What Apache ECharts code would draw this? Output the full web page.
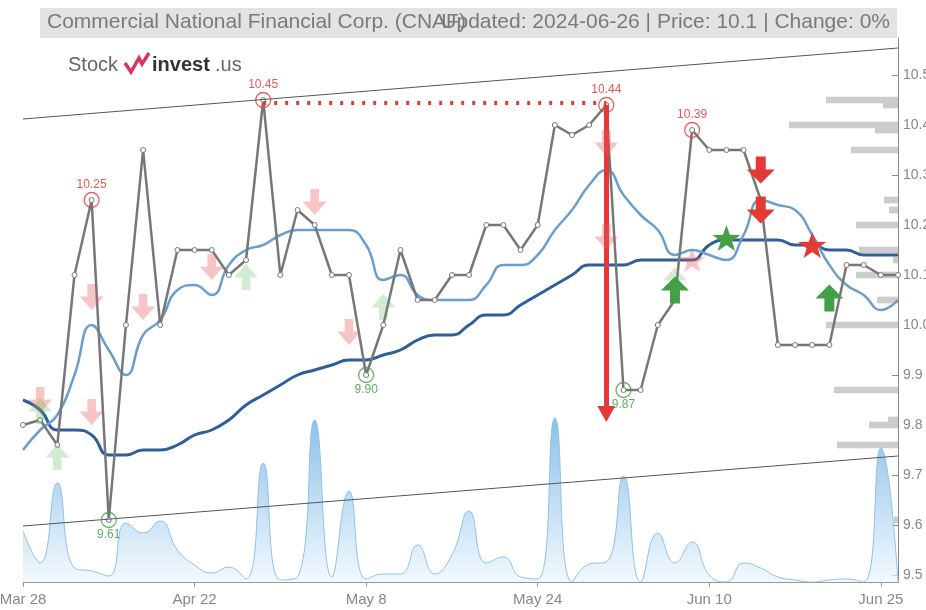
<!DOCTYPE html>
<html>
<head>
<meta charset="utf-8">
<script src="https://cdn.jsdelivr.net/npm/echarts@6/dist/echarts.min.js"></script>
<style>
  html, body { margin: 0; padding: 0; background: #fff; }
  #chart { width: 926px; height: 610px; }
</style>
</head>
<body>
<div id="chart"></div>
<script>
const dates = [
  "Mar 28", "Apr 1", "Apr 2", "Apr 4", "Apr 5", "Apr 9", "Apr 11", "Apr 12", "Apr 16", "Apr 18",
  "Apr 22", "Apr 23", "Apr 24", "Apr 25", "Apr 26", "Apr 29", "Apr 30", "May 1", "May 2", "May 6",
  "May 8", "May 9", "May 10", "May 13", "May 14", "May 15", "May 17", "May 20", "May 21", "May 23",
  "May 24", "May 28", "May 29", "May 30", "May 31", "Jun 3", "Jun 4", "Jun 5", "Jun 6", "Jun 7",
  "Jun 10", "Jun 11", "Jun 12", "Jun 13", "Jun 14", "Jun 17", "Jun 18", "Jun 20", "Jun 21", "Jun 24",
  "Jun 25", "Jun 26"
];

const close = [
  9.80, 9.81, 9.76, 10.10, 10.25, 9.61, 10.00, 10.35, 10.00, 10.15,
  10.15, 10.15, 10.10, 10.13, 10.45, 10.10, 10.23, 10.20, 10.10, 10.10,
  9.90, 10.00, 10.15, 10.05, 10.05, 10.10, 10.10, 10.20, 10.20, 10.15,
  10.20, 10.40, 10.38, 10.40, 10.44, 9.87, 9.87, 10.00, 10.05, 10.39,
  10.35, 10.35, 10.35, 10.25, 9.96, 9.96, 9.96, 9.96, 10.12, 10.12,
  10.10, 10.10
];

const maShort = [
  9.75, 9.79, 9.82, 9.90, 10.00, 9.95, 9.90, 9.98, 10.01, 10.07,
  10.08, 10.06, 10.12, 10.15, 10.16, 10.18, 10.19, 10.19, 10.19, 10.19,
  10.16, 10.09, 10.10, 10.06, 10.05, 10.05, 10.05, 10.08, 10.12, 10.12,
  10.14, 10.19, 10.23, 10.28, 10.31, 10.26, 10.22, 10.19, 10.14, 10.15,
  10.14, 10.13, 10.18, 10.25, 10.24, 10.23, 10.18, 10.12, 10.08, 10.06,
  10.03, 10.05
];

const maLong = [
  9.85, 9.83, 9.79, 9.79, 9.78, 9.74, 9.74, 9.75, 9.75, 9.76,
  9.78, 9.79, 9.81, 9.84, 9.86, 9.88, 9.90, 9.91, 9.92, 9.93,
  9.93, 9.94, 9.95, 9.97, 9.98, 9.98, 10.00, 10.02, 10.02, 10.04,
  10.06, 10.08, 10.10, 10.12, 10.12, 10.12, 10.13, 10.13, 10.13, 10.13,
  10.16, 10.17, 10.17, 10.17, 10.17, 10.16, 10.16, 10.15, 10.15, 10.14,
  10.14, 10.14
];

// volume, in hundreds of shares
const volume = [
  51, 19, 99, 14, 11, 6, 59, 49, 61, 32,
  17, 9, 15, 3, 119, 2, 5, 162, 5, 91,
  3, 8, 8, 37, 8, 27, 71, 19, 25, 5,
  3, 164, 0, 18, 20, 106, 0, 49, 19, 40,
  7, 0, 19, 14, 5, 2, 0, 2, 3, 0,
  134, 0
];

const highIdx = [4, 14, 34, 39];
const lowIdx = [5, 20, 35];

const trendUpper = [10.412, 10.554];
const trendLower = [9.598, 9.738];

// volume profile on the right
const profilePrice = [10.45, 10.44, 10.40, 10.39, 10.35, 10.25, 10.23, 10.20, 10.15, 10.13, 10.10, 10.05, 10.00, 9.87, 9.81, 9.80, 9.76, 9.61];
const profileVol = [72, 15, 109, 23, 47, 14, 9, 42, 39, 5, 42, 21, 72, 64, 10, 29, 61, 4];

// signals [index, price level]
const sellFaint = [[1, 9.85], [4, 10.056], [4, 9.826], [7, 10.036], [11, 10.116], [17, 10.246], [19, 9.986], [34, 10.364], [34, 10.176]];
const buyFaint = [[1, 9.828], [2, 9.736], [13, 10.096], [21, 10.036], [38, 10.09]];
const sellStrong = [[43, 10.31], [43, 10.23]];
const buyStrong = [[38, 10.07], [47, 10.054]];
const starFaint = [[39, 10.13]];
const starBuy = [[41, 10.174]];
const starSell = [[46, 10.16]];

const downArrow = "path://M-5,0 L5,0 L5,13 L14,13 L0,27 L-14,13 L-5,13 Z";
const upArrow = "path://M-5,27 L5,27 L5,14 L14,14 L0,0 L-14,14 L-5,14 Z";
const star = "path://M50,0 L61.76,33.82 L97.55,34.55 L69.02,56.18 L79.39,90.45 L50,70 L20.61,90.45 L30.98,56.18 L2.45,34.55 L38.24,33.82 Z";

const RED = "#e53935";
const GREEN = "#43a047";
const FONT = "Liberation Sans, Arial, sans-serif";

const chart = echarts.init(document.getElementById("chart"));

function signalSeries(data, symbol, color, size) {
  return {
    type: "scatter",
    data: data,
    symbol: symbol,
    symbolSize: size,
    itemStyle: { color: color, opacity: 1 },
    z: 5,
    silent: true,
  };
}

const hiLo = [];
highIdx.forEach((i) => {
  hiLo.push({
    coord: [dates[i], close[i]],
    symbol: "circle",
    symbolSize: 15,
    itemStyle: { color: "rgba(0,0,0,0)", borderColor: "rgba(229,57,53,0.8)", borderWidth: 1.3 },
    label: { show: true, position: "top", distance: 1, formatter: close[i].toFixed(2), color: "rgba(229,57,53,0.85)", fontSize: 12, fontFamily: FONT },
  });
});
lowIdx.forEach((i) => {
  hiLo.push({
    coord: [dates[i], close[i]],
    symbol: "circle",
    symbolSize: 15,
    itemStyle: { color: "rgba(0,0,0,0)", borderColor: "rgba(67,160,71,0.8)", borderWidth: 1.3 },
    label: { show: true, position: "bottom", distance: 1, formatter: close[i].toFixed(2), color: "rgba(67,160,71,0.85)", fontSize: 12, fontFamily: FONT },
  });
});

const option = {
  animation: false,
  textStyle: { fontFamily: FONT },
  grid: { left: 23, right: 28, top: 38, bottom: 28, outerBoundsMode: "none", containLabel: false },
  title: [
    {
      text: "Commercial National Financial Corp. (CNAF)",
      left: 47, top: 12, padding: 0,
      textStyle: { fontSize: 21, fontWeight: "normal", color: "#7a7a7a", fontFamily: FONT },
    },
    {
      text: "Updated: 2024-06-26 | Price: 10.1 | Change: 0%",
      right: 36, top: 12, padding: 0,
      textStyle: { fontSize: 21, fontWeight: "normal", color: "#7a7a7a", fontFamily: FONT },
    },
  ],
  graphic: [
    { type: "rect", shape: { x: 40, y: 8, width: 857, height: 30 }, style: { fill: "#e3e3e3" }, z: 0, silent: true },
    { type: "text", x: 68, y: 65, style: { text: "Stock", fill: "#666", font: "20px " + FONT, textVerticalAlign: "middle" }, z: 10 },
    { type: "polyline", shape: { points: [[125, 63], [131, 72], [139, 58], [142, 64], [149, 53]] }, style: { stroke: "#d8355a", lineWidth: 3.5, fill: null }, z: 10 },
    { type: "text", x: 152, y: 65, style: { text: "invest", fill: "#333", font: "bold 20px " + FONT, textVerticalAlign: "middle" }, z: 10 },
    { type: "text", x: 215, y: 65, style: { text: ".us", fill: "#666", font: "20px " + FONT, textVerticalAlign: "middle" }, z: 10 },
  ],
  xAxis: [
    {
      type: "category",
      data: dates,
      boundaryGap: false,
      axisLine: { lineStyle: { color: "#999" } },
      axisTick: { interval: 9, length: 5, lineStyle: { color: "#999" } },
      axisLabel: { interval: 9, color: "#888", fontSize: 15, margin: 10 },
      splitLine: { show: false },
    },
    {
      type: "value",
      inverse: true,
      min: 0,
      max: 875,
      show: false,
    },
  ],
  yAxis: [
    {
      type: "value",
      position: "right",
      min: 9.486,
      max: 10.574,
      splitNumber: 10,
      axisLine: { show: true, lineStyle: { color: "#888" } },
      axisTick: { show: true, inside: true, length: 6, lineStyle: { color: "#888" } },
      axisLabel: { color: "#888", fontSize: 14, margin: 5, showMinLabel: false, showMaxLabel: false, formatter: (v) => v.toFixed(1) },
      splitLine: { show: false },
    },
    { type: "value", min: 0, max: 544, show: false },
  ],
  series: [
    {
      type: "custom",
      xAxisIndex: 1,
      yAxisIndex: 0,
      z: 1,
      silent: true,
      data: profilePrice.map((p, i) => [profileVol[i], p]),
      renderItem: (params, api) => {
        const start = api.coord([0, api.value(1)]);
        const end = api.coord([api.value(0), api.value(1)]);
        const h = api.size([0, 0.0134])[1];
        return {
          type: "rect",
          shape: { x: end[0], y: start[1] - h / 2, width: start[0] - end[0], height: h },
          style: { fill: "#cccccc" },
        };
      },
    },
    {
      type: "line",
      yAxisIndex: 1,
      data: volume,
      smooth: true,
      symbol: "none",
      z: 1,
      lineStyle: { color: "#8cc2ea", width: 1 },
      areaStyle: {
        color: new echarts.graphic.LinearGradient(0, 0, 0, 1, [
          { offset: 0, color: "#5aa6de" },
          { offset: 1, color: "#edf5fc" },
        ]),
      },
    },
    {
      type: "line",
      data: maLong,
      smooth: true,
      symbol: "none",
      z: 2,
      lineStyle: { color: "#2e5f98", width: 3 },
    },
    {
      type: "line",
      data: maShort,
      smooth: true,
      symbol: "none",
      z: 2,
      lineStyle: { color: "#6b9ed0", width: 2.5 },
    },
    {
      type: "line",
      data: close,
      z: 3,
      symbol: "circle",
      symbolSize: 5,
      showAllSymbol: true,
      lineStyle: { color: "#777", width: 2.5 },
      itemStyle: { color: "#fff", borderColor: "#777", borderWidth: 1 },
      markPoint: { silent: true, data: hiLo },
      markLine: {
        silent: true,
        symbol: "none",
        label: { show: false },
        emphasis: { disabled: true },
        data: [
          [
            { coord: [dates[0], trendUpper[0]] },
            { coord: [dates[dates.length - 1], trendUpper[1]] },
          ],
          [
            { coord: [dates[0], trendLower[0]] },
            { coord: [dates[dates.length - 1], trendLower[1]] },
          ],
          [
            { coord: [dates[14], 10.445], lineStyle: { color: RED, width: 4, type: [3, 8] } },
            { coord: [dates[34], 10.445] },
          ],
          [
            { coord: [dates[34], 10.44], symbol: "none", lineStyle: { color: RED, width: 5, type: "solid" } },
            { coord: [dates[34], 9.822], symbol: "triangle", symbolSize: [18, 16], symbolRotate: 180 },
          ],
        ],
        lineStyle: { color: "#555", width: 1, type: "solid" },
      },
    },
    signalSeries(sellFaint, downArrow, "rgba(235,90,90,0.35)", [24, 26]),
    signalSeries(buyFaint, upArrow, "rgba(80,175,80,0.25)", [24, 26]),
    signalSeries(starFaint, star, "rgba(235,90,90,0.35)", [26, 24]),
    signalSeries(sellStrong, downArrow, RED, [28, 27]),
    signalSeries(buyStrong, upArrow, GREEN, [28, 27]),
    signalSeries(starBuy, star, GREEN, [28, 26]),
    signalSeries(starSell, star, RED, [28, 26]),
  ],
};

chart.setOption(option);
</script>
</body>
</html>
